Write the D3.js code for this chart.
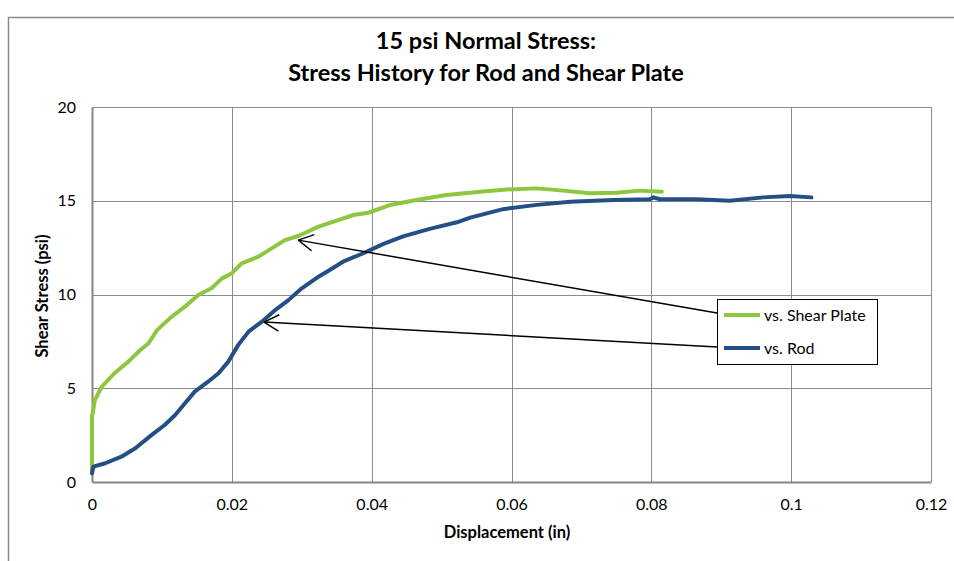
<!DOCTYPE html>
<html><head><meta charset="utf-8">
<script src="https://cdn.jsdelivr.net/npm/d3@7"></script>
<style>
html,body{margin:0;padding:0;background:#fff;}
text{font-family:Lato,"Open Sans",sans-serif;fill:#000;}
</style></head>
<body><svg id="chart" width="954" height="561"></svg>
<script>
const titleLines = ["15 psi Normal Stress:", "Stress History for Rod and Shear Plate"];
const xTicks = [0, 0.02, 0.04, 0.06, 0.08, 0.1, 0.12];
const yTicks = [0, 5, 10, 15, 20];
const seriesNames = ["vs. Shear Plate", "vs. Rod"];
const shearPlateX = [0, 0, 0.0002, 0.0004, 0.0014, 0.0033, 0.0052, 0.0069, 0.0081, 0.0093, 0.0114, 0.0133, 0.0152, 0.0171, 0.0186, 0.0200, 0.0214, 0.0238, 0.0257, 0.0276, 0.0295, 0.0324, 0.0352, 0.0374, 0.0395, 0.0426, 0.0464, 0.0507, 0.0555, 0.0593, 0.0636, 0.0674, 0.0712, 0.0750, 0.0784, 0.0815];
const shearPlateY = [0.6, 3.5, 3.9, 4.37, 5.08, 5.83, 6.42, 7.04, 7.4, 8.1, 8.82, 9.35, 9.97, 10.33, 10.86, 11.13, 11.66, 12.02, 12.46, 12.9, 13.12, 13.62, 13.97, 14.24, 14.36, 14.77, 15.04, 15.31, 15.48, 15.6, 15.66, 15.54, 15.4, 15.43, 15.54, 15.48];
const rodX = [0, 0.0002, 0.0019, 0.0042, 0.0062, 0.0085, 0.0104, 0.0119, 0.0133, 0.0147, 0.0166, 0.0181, 0.0195, 0.0209, 0.0224, 0.0243, 0.0262, 0.0281, 0.0300, 0.0324, 0.0340, 0.0359, 0.0388, 0.0417, 0.0445, 0.0483, 0.0522, 0.0541, 0.0588, 0.0636, 0.0684, 0.0746, 0.0798, 0.0803, 0.0812, 0.0865, 0.0912, 0.0960, 0.0998, 0.1029];
const rodY = [0.46, 0.82, 1.0, 1.35, 1.8, 2.5, 3.04, 3.57, 4.2, 4.82, 5.35, 5.8, 6.42, 7.3, 8.02, 8.55, 9.17, 9.7, 10.33, 10.95, 11.31, 11.75, 12.2, 12.7, 13.1, 13.5, 13.85, 14.1, 14.55, 14.78, 14.95, 15.04, 15.08, 15.18, 15.08, 15.08, 15.0, 15.18, 15.25, 15.18];
// annotation arrows (data coords): tail -> tip
const arrowTailX = [0.0894, 0.0894];
const arrowTailY = [9.01, 7.2];
const arrowTipX = [0.0295, 0.0246];
const arrowTipY = [12.9, 8.53];

const colors = ["#8dc63f", "#234f85"];
const W = 954, H = 561;
const m = {left: 92, right: 23, top: 107, bottom: 79};
const svg = d3.select("#chart");

// outer frame
svg.append("path").attr("d", `M8.5,${H} L8.5,17.5 L${W},17.5`)
  .attr("fill", "none").attr("stroke", "#8a8a8a").attr("stroke-width", 1.5);

const x = d3.scaleLinear().domain([0, 0.12]).range([m.left, W - m.right]);
const y = d3.scaleLinear().domain([0, 20]).range([H - m.bottom, m.top]);

// gridlines
svg.append("g").selectAll("line").data(xTicks.slice(1)).join("line")
  .attr("x1", d => Math.round(x(d)) + 0.5).attr("x2", d => Math.round(x(d)) + 0.5)
  .attr("y1", y(20)).attr("y2", y(0)).attr("stroke", "#8c8c8c").attr("stroke-width", 1);
svg.append("g").selectAll("line").data(yTicks.slice(1)).join("line")
  .attr("x1", x(0)).attr("x2", x(0.12))
  .attr("y1", d => Math.round(y(d)) + 0.5).attr("y2", d => Math.round(y(d)) + 0.5)
  .attr("stroke", "#8c8c8c").attr("stroke-width", 1);

// axes
const xAxis = svg.append("g").attr("transform", `translate(0,${y(0)})`)
  .call(d3.axisBottom(x).tickValues(xTicks).tickSize(0).tickPadding(17).tickFormat(d => String(d)));
const yAxis = svg.append("g").attr("transform", `translate(${x(0)},0)`)
  .call(d3.axisLeft(y).tickValues(yTicks).tickSize(0).tickPadding(16).tickFormat(d => String(d)));
[xAxis, yAxis].forEach(a => {
  a.select(".domain").attr("stroke", "#868686").attr("stroke-width", 2);
  a.selectAll("text").attr("font-size", 16).attr("font-family", "Lato, sans-serif").attr("fill", "#000");
});

// lines
const line = d3.line().x(d => x(d[0])).y(d => y(d[1]));
const series = [
  d3.zip(shearPlateX, shearPlateY),
  d3.zip(rodX, rodY)
];
series.forEach((s, i) => {
  svg.append("path").datum(s).attr("d", line).attr("fill", "none")
    .attr("stroke", colors[i]).attr("stroke-width", 4)
    .attr("stroke-linejoin", "round").attr("stroke-linecap", "round");
});

// legend
const lg = svg.append("g");
lg.append("rect").attr("x", 717.5).attr("y", 299.5).attr("width", 160).attr("height", 65)
  .attr("fill", "#fff").attr("stroke", "#000").attr("stroke-width", 1);
seriesNames.forEach((n, i) => {
  const ly = 315 + i * 33;
  lg.append("line").attr("x1", 724).attr("x2", 760).attr("y1", ly).attr("y2", ly)
    .attr("stroke", colors[i]).attr("stroke-width", 4);
  lg.append("text").attr("x", 764).attr("y", ly + 5.5).attr("font-size", 16).text(n);
});

// arrows
arrowTipX.forEach((tx, i) => {
  const x1 = x(arrowTailX[i]), y1 = y(arrowTailY[i]);
  const x2 = x(tx), y2 = y(arrowTipY[i]);
  svg.append("line").attr("x1", x1).attr("y1", y1).attr("x2", x2).attr("y2", y2)
    .attr("stroke", "#000").attr("stroke-width", 1.5);
  const ang = Math.atan2(y1 - y2, x1 - x2);
  const L = 17, spread = 0.5;
  [ang + spread, ang - spread].forEach(a => {
    svg.append("line").attr("x1", x2).attr("y1", y2)
      .attr("x2", x2 + L * Math.cos(a)).attr("y2", y2 + L * Math.sin(a))
      .attr("stroke", "#000").attr("stroke-width", 1.5);
  });
});

// titles
titleLines.forEach((t, i) => {
  svg.append("text").attr("x", 486).attr("y", 49 + i * 32).attr("text-anchor", "middle")
    .attr("font-size", 23.5).attr("font-weight", "bold").text(t);
});
svg.append("text").attr("x", 507).attr("y", 538).attr("text-anchor", "middle")
  .attr("font-size", 16.5).attr("font-weight", "bold").text("Displacement  (in)");
svg.append("text").attr("transform", "translate(48,296) rotate(-90)").attr("text-anchor", "middle")
  .attr("font-size", 16.5).attr("font-weight", "bold").text("Shear Stress (psi)");
</script></body></html>
